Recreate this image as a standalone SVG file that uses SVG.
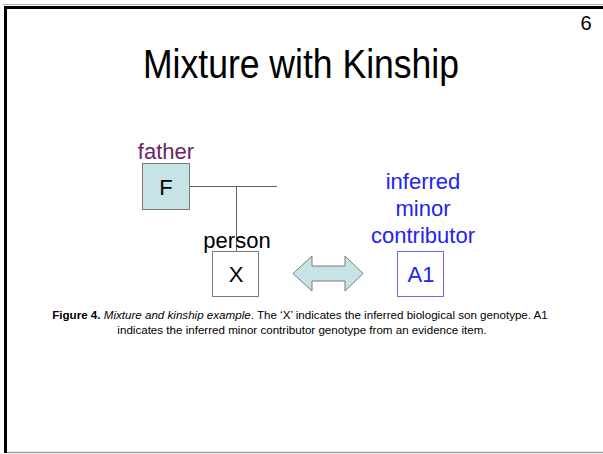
<svg xmlns="http://www.w3.org/2000/svg" width="603" height="454" viewBox="0 0 603 454">
<style>
text{font-family:"Liberation Sans",Arial,sans-serif}
.box{stroke:#7a7a7a;stroke-width:1}
.big{font-size:22px}
.blue{fill:#2323f0}
.cap{font-size:11.6px;fill:#000}
</style>
<rect width="603" height="454" fill="#fff"/>
<g id="frame">
<line x1="3" y1="4.5" x2="603" y2="4.5" stroke="#aaa" stroke-width="1"/>
<line x1="4" y1="7.5" x2="603" y2="7.5" stroke="#000" stroke-width="3"/>
<line x1="5.5" y1="6" x2="5.5" y2="453" stroke="#000" stroke-width="3"/>
<line x1="7" y1="452.5" x2="603" y2="452.5" stroke="#a0a0a0" stroke-width="1.5"/>
</g>
<text id="page" x="586" y="30" font-size="20" text-anchor="middle">6</text>
<text id="title" x="143" y="78" font-size="41" textLength="316" lengthAdjust="spacingAndGlyphs">Mixture with Kinship</text>
<g id="connectors">
<path d="M190 186.5H277M236.5 186.5V251" stroke="#606060" stroke-width="1" fill="none"/>
<path id="double-arrow" d="M293 273.5L312 256V266H345V256L363 273.5L345 291V281H312V291Z" fill="#c6e4e6" stroke="#7a7a7a" stroke-width="1"/>
</g>
<g id="father">
<text x="166" y="159" class="big" fill="#6b2466" text-anchor="middle">father</text>
<rect x="142.5" y="163.5" width="47" height="46" class="box" fill="#c6e4e6"/>
<text x="166" y="195" class="big" text-anchor="middle">F</text>
</g>
<g id="person">
<text x="237" y="248" class="big" text-anchor="middle">person</text>
<rect x="212.5" y="251.5" width="46" height="45" class="box" fill="#fff"/>
<text x="236" y="282" class="big" text-anchor="middle">X</text>
</g>
<g id="contributor">
<text class="big blue" font-size="23.5" text-anchor="middle"><tspan x="423" y="189">inferred</tspan><tspan x="423" y="216">minor</tspan><tspan x="423" y="243">contributor</tspan></text>
<rect x="397.5" y="251.5" width="46" height="45" fill="#fff" stroke="#6a6af0" stroke-width="1"/>
<text x="421" y="282" class="big blue" text-anchor="middle">A1</text>
</g>
<g id="caption">
<text class="cap" x="300" y="319" text-anchor="middle"><tspan font-weight="bold">Figure 4.</tspan> <tspan font-style="italic">Mixture and kinship example</tspan>. The ‘X’ indicates the inferred biological son genotype. A1</text>
<text class="cap" x="302" y="334" text-anchor="middle">indicates the inferred minor contributor genotype from an evidence item.</text>
</g>
</svg>
